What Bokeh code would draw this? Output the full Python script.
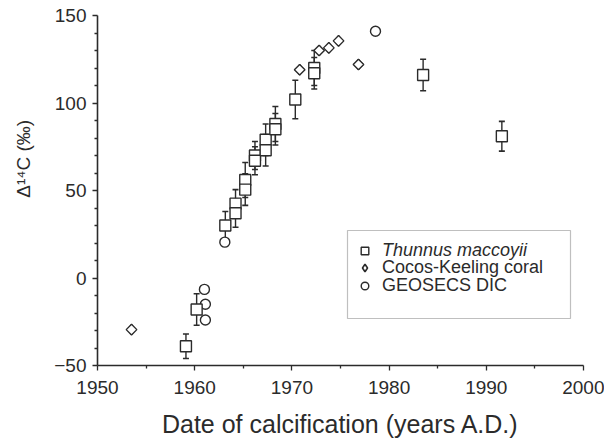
import numpy as np
from bokeh.plotting import figure
from bokeh.models import (Range1d, FixedTicker, Legend, LegendItem,
                          BoxAnnotation, ColumnDataSource)
from bokeh.embed import file_html
from bokeh.resources import INLINE

# ---- data ----
tuna_year = [1959.1, 1960.2, 1963.15, 1964.2, 1964.2, 1965.2, 1965.2, 1966.2, 1966.2,
             1967.3, 1967.3, 1968.3, 1968.3, 1970.35, 1972.3, 1972.3, 1983.5, 1991.6]
tuna_d14c = [-39, -18, 30, 42.5, 37, 56, 50.5, 70, 67,
             79, 73, 88, 85, 102, 120, 117, 116, 81]
tuna_err = [7, 9, 8, 8, 8, 10, 9, 8, 8,
            9, 9, 10, 9, 11, 10, 9, 9, 8.5]

coral_year = [1953.5, 1970.8, 1972.8, 1973.8, 1974.8, 1976.85]
coral_d14c = [-29.5, 119, 130, 131.5, 135.5, 122]

geosecs_year = [1961.0, 1961.1, 1961.1, 1963.1, 1978.6]
geosecs_d14c = [-6.5, -15, -24, 20.5, 141]

x_ticks = [1950, 1960, 1970, 1980, 1990, 2000]
x_minor = [1955, 1965, 1975, 1985, 1995]
y_ticks = [-50, 0, 50, 100, 150]
y_minor = [-40, -30, -20, -10, 10, 20, 30, 40, 60, 70, 80, 90, 110, 120, 130, 140]

FONT = "Liberation Sans"
INK = "#2b2b2b"

p = figure(width=604, height=440, output_backend="svg", toolbar_location=None,
           x_range=Range1d(1950, 2000), y_range=Range1d(-50, 150),
           min_border_left=97, min_border_right=21, min_border_top=15, min_border_bottom=75)
p.outline_line_color = None
p.grid.visible = False
p.background_fill_color = "white"

p.xaxis.ticker = FixedTicker(ticks=x_ticks, minor_ticks=x_minor)
p.yaxis.ticker = FixedTicker(ticks=y_ticks, minor_ticks=y_minor)
for ax in (p.xaxis, p.yaxis):
    ax.axis_line_color = INK
    ax.axis_line_width = 1.6
    ax.major_tick_line_color = INK
    ax.minor_tick_line_color = INK
    ax.major_tick_line_width = 1.3
    ax.minor_tick_line_width = 1.3
    ax.major_tick_out = 5
    ax.major_tick_in = 0
    ax.minor_tick_out = 3
    ax.minor_tick_in = 0
    ax.major_label_text_font = FONT
    ax.major_label_text_font_size = "19px"
    ax.major_label_text_color = INK
    ax.axis_label_text_font = FONT
    ax.axis_label_text_font_style = "normal"
    ax.axis_label_text_color = INK
p.xaxis.major_label_standoff = 10
p.yaxis.major_label_standoff = 6

p.xaxis.axis_label = "Date of calcification (years A.D.)"
p.xaxis.axis_label_text_font_size = "25px"
p.xaxis.axis_label_standoff = 13

# title sits above the frame centre in the original: pad its start with no-break spaces
p.yaxis.axis_label = "\u00a0" * 12 + "\u0394\u00b9\u2074C (\u2030)"
p.yaxis.axis_label_text_font_size = "19px"
p.yaxis.axis_label_standoff = 17

# ---- error bars ----
ty = np.array(tuna_d14c, dtype=float)
te = np.array(tuna_err, dtype=float)
src = ColumnDataSource(dict(x=tuna_year, y=ty, lo=ty - te, hi=ty + te))
p.segment(x0="x", y0="lo", x1="x", y1="hi", source=src, line_color=INK, line_width=1.4)
p.scatter(x="x", y="lo", source=src, marker="dash", size=6, line_color=INK, line_width=1.6)
p.scatter(x="x", y="hi", source=src, marker="dash", size=6, line_color=INK, line_width=1.6)

# ---- markers ----
# narrow diamond (used for the legend icon) sits hidden under the rotated square
r_coral_leg = p.scatter(coral_year, coral_d14c, marker="diamond", size=10,
                        fill_color="white", line_color=INK, line_width=1.6)
p.scatter(coral_year, coral_d14c, marker="square", angle=np.pi / 4, size=7.5,
          fill_color="white", line_color=INK, line_width=1.4)
r_geo = p.scatter(geosecs_year, geosecs_d14c, marker="circle", size=10,
                  fill_color="white", line_color=INK, line_width=1.4)
r_tuna = p.scatter(x="x", y="y", source=src, marker="square", size=11,
                   fill_color="white", line_color=INK, line_width=1.4)

# ---- legend (one row per legend so rows can be placed exactly) ----
common = dict(border_line_color=None, background_fill_alpha=0, padding=0, margin=0,
              spacing=0, glyph_width=19, glyph_height=19, label_height=18,
              label_standoff=8, label_text_font=FONT, label_text_font_size="18px",
              label_text_color=INK)
legA = Legend(items=[LegendItem(label="Thunnus maccoyii", renderers=[r_tuna])],
              location=(258, 104), label_text_font_style="italic", **common)
legB = Legend(items=[LegendItem(label="Cocos-Keeling coral", renderers=[r_coral_leg])],
              location=(258, 87), **common)
legC = Legend(items=[LegendItem(label="GEOSECS DIC", renderers=[r_geo])],
              location=(258, 69), **common)
for lg in (legA, legB, legC):
    p.add_layout(lg)
p.add_layout(BoxAnnotation(left=250, right=473, bottom=47, top=135,
                           left_units="screen", right_units="screen",
                           bottom_units="screen", top_units="screen",
                           fill_alpha=0, line_color=INK, line_width=1.2))

open("out.html", "w").write(file_html(p, INLINE))
